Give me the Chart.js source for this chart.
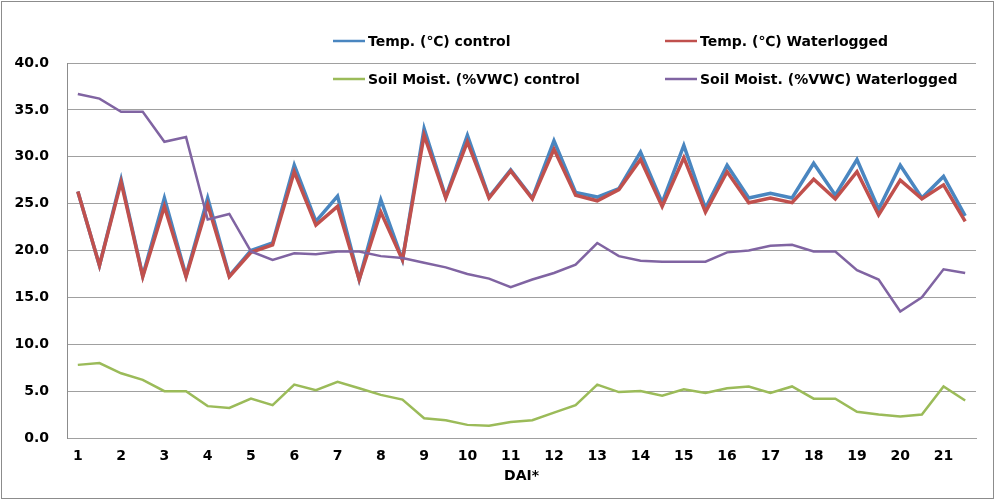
<!DOCTYPE html>
<html>
<head>
<meta charset="utf-8">
<title>Temp and soil moisture</title>
<script src="https://cdn.jsdelivr.net/npm/chart.js@4"></script>
<style>
  body { margin: 0; background: #fff; }
  #wrap { width: 995px; height: 500px; }
</style>
</head>
<body>
<div id="wrap"><canvas id="myChart" width="995" height="500"></canvas></div>
<script>
// x labels, one point every half day (only whole days are labelled)
const dai = ['1','','2','','3','','4','','5','','6','','7','','8','','9','','10','',
             '11','','12','','13','','14','','15','','16','','17','','18','','19','','20','','21',''];

const tempControl = [26.3, 18.4, 27.6, 17.3, 25.6, 17.3, 25.6, 17.3, 20.0, 20.8,
                     29.1, 23.1, 25.8, 16.9, 25.4, 19.0, 33.0, 25.7, 32.3, 25.7,
                     28.6, 25.6, 31.7, 26.2, 25.7, 26.6, 30.5, 25.1, 31.2, 24.5,
                     29.1, 25.6, 26.1, 25.6, 29.3, 25.9, 29.7, 24.4, 29.1, 25.6,
                     27.9, 23.7];

const tempWater = [26.3, 18.4, 27.3, 17.2, 24.7, 17.2, 24.9, 17.2, 19.8, 20.6,
                   28.4, 22.7, 24.7, 16.9, 24.1, 19.0, 32.3, 25.6, 31.6, 25.6,
                   28.5, 25.5, 30.8, 25.9, 25.3, 26.5, 29.7, 24.7, 29.9, 24.1,
                   28.4, 25.1, 25.6, 25.1, 27.6, 25.5, 28.4, 23.8, 27.5, 25.5,
                   27.0, 23.1];

const moistControl = [7.8, 8.0, 6.9, 6.2, 5.0, 5.0, 3.4, 3.2, 4.2, 3.5,
                      5.7, 5.1, 6.0, 5.3, 4.6, 4.1, 2.1, 1.9, 1.4, 1.3,
                      1.7, 1.9, 2.7, 3.5, 5.7, 4.9, 5.0, 4.5, 5.2, 4.8,
                      5.3, 5.5, 4.8, 5.5, 4.2, 4.2, 2.8, 2.5, 2.3, 2.5,
                      5.5, 4.0];

const moistWater = [36.7, 36.2, 34.8, 34.8, 31.6, 32.1, 23.3, 23.9, 19.9, 19.0,
                    19.7, 19.6, 19.9, 19.9, 19.4, 19.2, 18.7, 18.2, 17.5, 17.0,
                    16.1, 16.9, 17.6, 18.5, 20.8, 19.4, 18.9, 18.8, 18.8, 18.8,
                    19.8, 20.0, 20.5, 20.6, 19.9, 19.9, 17.9, 16.9, 13.5, 15.0,
                    18.0, 17.6];

const yTicks = [0, 5, 10, 15, 20, 25, 30, 35, 40];

const boldFont = { family: 'DejaVu Sans', size: 14, weight: 'bold' };

// white background + thin frame round the whole picture
const framePlugin = {
  id: 'frame',
  beforeDraw(chart) {
    const ctx = chart.ctx;
    ctx.save();
    ctx.fillStyle = '#fff';
    ctx.fillRect(0, 0, chart.width, chart.height);
    ctx.restore();
  },
  afterDraw(chart) {
    const ctx = chart.ctx;
    ctx.save();
    ctx.strokeStyle = '#8c8c8c';
    ctx.lineWidth = 1;
    ctx.strokeRect(1.5, 1.5, 992, 497);
    ctx.restore();
  }
};

// legend in two rows, two columns, overlapping the top of the plot
const legendPlugin = {
  id: 'gridLegend',
  afterDraw(chart, args, opts) {
    const ctx = chart.ctx;
    ctx.save();
    ctx.font = 'bold 14px "DejaVu Sans"';
    ctx.textBaseline = 'middle';
    ctx.fillStyle = '#000';
    chart.data.datasets.forEach(function(ds, i) {
      const x = opts.cols[i % 2];
      const y = opts.rows[Math.floor(i / 2)];
      ctx.strokeStyle = ds.borderColor;
      ctx.lineWidth = 2.5;
      ctx.beginPath();
      ctx.moveTo(x, y);
      ctx.lineTo(x + 32, y);
      ctx.stroke();
      ctx.fillText(ds.label, x + 35, y + 1);
    });
    ctx.restore();
  }
};

new Chart(document.getElementById('myChart'), {
  type: 'line',
  data: {
    labels: dai,
    datasets: [
      { label: 'Temp. (\u2103) control', data: tempControl, borderColor: '#4a86c0', borderWidth: 3.5, order: 4 },
      { label: 'Temp. (\u2103) Waterlogged', data: tempWater, borderColor: '#c0504d', borderWidth: 3.5, order: 3 },
      { label: 'Soil Moist. (%VWC) control', data: moistControl, borderColor: '#9bbb59', borderWidth: 2.5, order: 2 },
      { label: 'Soil Moist. (%VWC) Waterlogged', data: moistWater, borderColor: '#8064a2', borderWidth: 2.5, order: 1 }
    ]
  },
  options: {
    responsive: false,
    animation: false,
    events: [],
    elements: {
      point: { radius: 0 },
      line: { tension: 0, borderJoinStyle: 'miter' }
    },
    layout: { padding: { top: 63, right: 19, bottom: 0, left: 0 } },
    plugins: {
      legend: { display: false },
      tooltip: { enabled: false },
      gridLegend: { cols: [333, 665], rows: [41, 79] }
    },
    scales: {
      x: {
        offset: true,
        grid: { display: false, drawTicks: false },
        border: { display: true, color: '#a0a0a0', width: 1 },
        ticks: { autoSkip: false, maxRotation: 0, color: '#000', font: boldFont, padding: 10 },
        title: { display: true, text: 'DAI*', color: '#000', font: boldFont, padding: { top: 0, bottom: 15 } },
        afterFit(scale) { scale.height = 62; }
      },
      y: {
        min: 0,
        max: 40,
        grid: { color: '#a0a0a0', drawTicks: false },
        border: { display: true, color: '#8c8c8c', width: 1 },
        afterBuildTicks(scale) { scale.ticks = yTicks.map(function(v) { return { value: v }; }); },
        ticks: {
          color: '#000',
          font: boldFont,
          padding: 18,
          callback: function(v) { return v.toFixed(1); }
        },
        afterFit(scale) { scale.width = 67; }
      }
    }
  },
  plugins: [framePlugin, legendPlugin]
});
</script>
</body>
</html>
